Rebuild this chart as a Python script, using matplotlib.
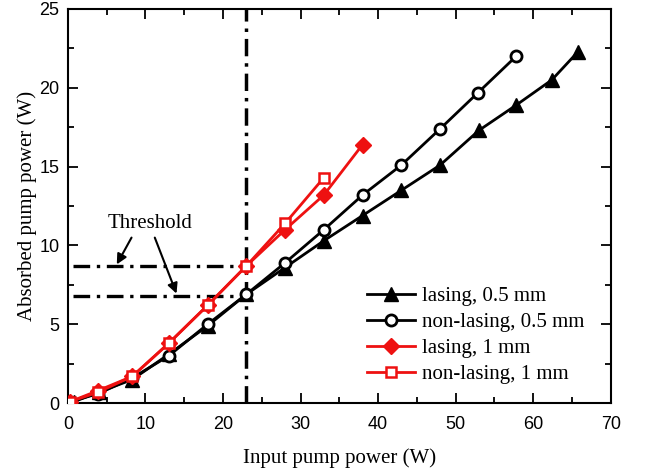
import matplotlib
matplotlib.use("Agg")
import matplotlib.pyplot as plt
from matplotlib.ticker import MultipleLocator

# Data
x_las05 = [0.8, 4.0, 8.3, 13.0, 18.0, 23.0, 28.0, 33.0, 38.0, 43.0, 48.0, 53.0, 57.8, 62.4, 65.8]
y_las05 = [0.1, 0.7, 1.5, 3.1, 4.9, 6.9, 8.6, 10.3, 11.9, 13.5, 15.1, 17.3, 18.9, 20.5, 22.3]
x_non05 = [0.3, 3.9, 8.3, 13.0, 18.0, 23.0, 28.0, 33.0, 38.0, 43.0, 48.0, 52.9, 57.8]
y_non05 = [0.1, 0.6, 1.6, 3.0, 5.0, 6.9, 8.9, 11.0, 13.2, 15.1, 17.4, 19.7, 22.0]
x_las1 = [0.3, 3.9, 8.3, 13.0, 18.0, 23.0, 28.0, 33.0, 38.0]
y_las1 = [0.1, 0.8, 1.7, 3.8, 6.2, 8.7, 11.0, 13.2, 16.4]
x_non1 = [0.3, 3.9, 8.3, 13.0, 18.0, 23.0, 28.0, 33.0]
y_non1 = [0.1, 0.7, 1.7, 3.8, 6.2, 8.7, 11.4, 14.3]

threshold_x = 23.0
threshold_y = [8.7, 6.8]

serif = "Liberation Serif"
sans = "Liberation Sans"

fig = plt.figure(figsize=(6.47, 4.71), dpi=100)
ax = fig.add_axes([0.105, 0.144, 0.839, 0.837])

ax.plot(x_las05, y_las05, color="black", lw=2, marker="^", ms=10, mfc="black", mec="black",
        label="lasing, 0.5 mm", zorder=3)
ax.plot(x_non05, y_non05, color="black", lw=2, marker="o", ms=8, mfc="white", mec="black", mew=2,
        label="non-lasing, 0.5 mm", zorder=4)
ax.plot(x_las1, y_las1, color="#ee1111", lw=2, marker="D", ms=8, mfc="#ee1111", mec="#ee1111",
        label="lasing, 1 mm", zorder=5)
ax.plot(x_non1, y_non1, color="#ee1111", lw=2, marker="s", ms=7, mfc="white", mec="#ee1111", mew=1.8,
        label="non-lasing, 1 mm", zorder=6)

# threshold lines
ax.axvline(threshold_x, color="black", lw=2.5, ls=(0, (5, 2, 1, 2)), zorder=2)
for ty in threshold_y:
    ax.plot([0.7, threshold_x], [ty, ty], color="black", lw=2.4, ls=(0, (5, 2, 1, 2)), zorder=2)

ax.text(10.6, 11.4, "Threshold", family=serif, fontsize=15, ha="center", va="center")
ax.annotate("", xy=(6.3, 8.8), xytext=(8.2, 10.5),
            arrowprops=dict(arrowstyle="-|>", color="black", lw=1.5, mutation_scale=15,
                            shrinkA=0, shrinkB=0))
ax.annotate("", xy=(14.0, 6.95), xytext=(11.2, 10.5),
            arrowprops=dict(arrowstyle="-|>", color="black", lw=1.5, mutation_scale=15,
                            shrinkA=0, shrinkB=0))

ax.set_xlim(0, 70)
ax.set_ylim(0, 25)
ax.xaxis.set_major_locator(MultipleLocator(10))
ax.xaxis.set_minor_locator(MultipleLocator(5))
ax.yaxis.set_major_locator(MultipleLocator(5))
ax.yaxis.set_minor_locator(MultipleLocator(2.5))
ax.tick_params(which="both", direction="in", top=True, right=True, width=1.3)
ax.tick_params(which="major", length=7, labelsize=13)
ax.tick_params(axis="x", which="major", pad=9)
ax.tick_params(axis="y", which="major", pad=6)
ax.tick_params(which="minor", length=4)
for lab in ax.get_xticklabels() + ax.get_yticklabels():
    lab.set_family(sans)
for s in ax.spines.values():
    s.set_linewidth(1.5)

ax.set_xlabel("Input pump power (W)", family=serif, fontsize=15, labelpad=11)
ax.set_ylabel("Absorbed pump power (W)", family=serif, fontsize=15, labelpad=2)

ax.legend(loc="lower right", frameon=False, prop={"family": serif, "size": 15},
          handlelength=2.3, handletextpad=0.35, labelspacing=0.3,
          bbox_to_anchor=(0.967, 0.028), borderaxespad=0)

fig.savefig("out.png", dpi=100)
